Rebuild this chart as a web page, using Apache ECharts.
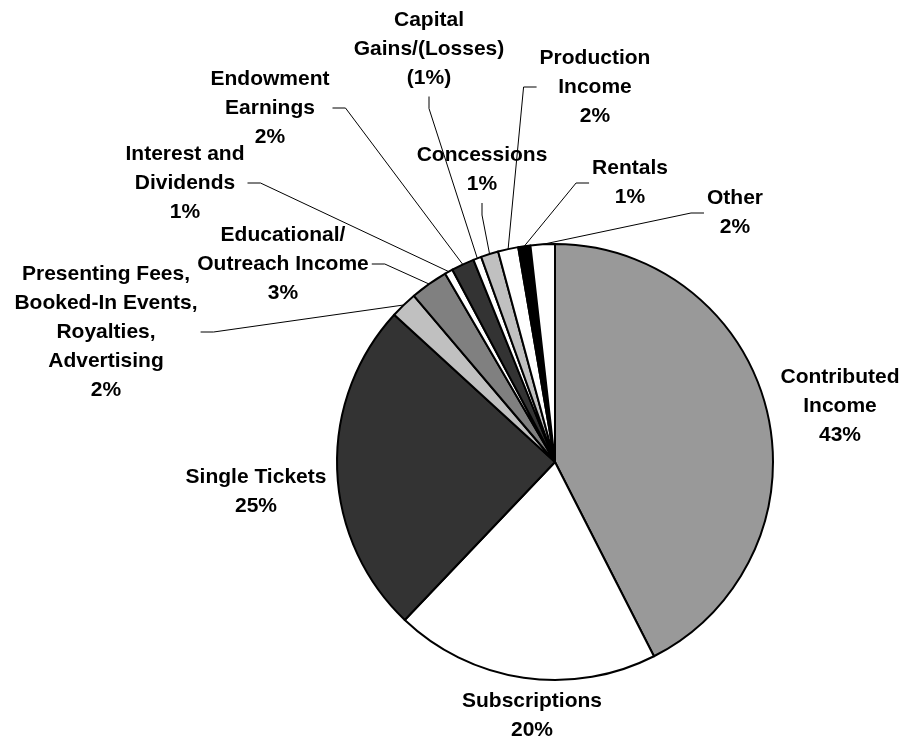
<!DOCTYPE html>
<html>
<head>
<meta charset="utf-8">
<script src="https://cdn.jsdelivr.net/npm/echarts@6/dist/echarts.min.js"></script>
<style>
  html, body { margin: 0; padding: 0; background: #ffffff; }
  #chart { width: 915px; height: 738px; }
</style>
</head>
<body>
<div id="chart"></div>
<script>
// Income sources as a share of total revenue (a loss is stored as a negative share)
const categories = [
  'Contributed\nIncome',
  'Subscriptions',
  'Single Tickets',
  'Presenting Fees,\nBooked-In Events,\nRoyalties,\nAdvertising',
  'Educational/\nOutreach Income',
  'Interest and\nDividends',
  'Endowment\nEarnings',
  'Capital\nGains/(Losses)',
  'Concessions',
  'Production\nIncome',
  'Rentals',
  'Other'
];
const shares = [42.5, 19.6, 24.7, 2.0, 2.8, 0.6, 1.7, -0.6, 1.3, 1.5, 0.9, 1.8];

// Slice fills, one per category
const fills = ['#999999', '#ffffff', '#333333', '#c0c0c0', '#808080', '#ffffff',
               '#333333', '#ffffff', '#c0c0c0', '#ffffff', '#000000', '#ffffff'];

// Where each label block sits and which edge its leader line meets
const labelSpots = [
  { x: 840, y: 406, side: null },
  { x: 532, y: 716, side: null },
  { x: 256, y: 492, side: null },
  { x: 106, y: 332, side: 'right' },
  { x: 283, y: 264, side: 'right' },
  { x: 185, y: 183, side: 'right' },
  { x: 270, y: 108, side: 'right' },
  { x: 429, y: 49,  side: 'bottom' },
  { x: 482, y: 170, side: 'bottom' },
  { x: 595, y: 87,  side: 'left' },
  { x: 630, y: 183, side: 'left' },
  { x: 735, y: 213, side: 'left' }
];

const total = shares.reduce((s, v) => s + Math.abs(v), 0);

const pieData = categories.map((name, i) => ({
  name: name,
  value: Math.abs(shares[i]),
  itemStyle: { color: fills[i] },
  labelLine: { show: labelSpots[i].side !== null }
}));

function shareText(i) {
  const pct = Math.round(Math.abs(shares[i]) / total * 100);
  return shares[i] < 0 ? '(' + pct + '%)' : pct + '%';
}

const chart = echarts.init(document.getElementById('chart'), null, { renderer: 'canvas' });

chart.setOption({
  backgroundColor: '#ffffff',
  animation: false,
  series: [{
    type: 'pie',
    center: [555, 462],
    radius: 218,
    startAngle: 90,
    clockwise: true,
    avoidLabelOverlap: false,
    data: pieData,
    itemStyle: { borderColor: '#000000', borderWidth: 2 },
    emphasis: { disabled: true },
    label: {
      show: true,
      position: 'outside',
      formatter: p => p.name + '\n' + shareText(p.dataIndex),
      fontFamily: '"Liberation Sans", Arial, sans-serif',
      fontWeight: 'bold',
      fontSize: 21,
      lineHeight: 29,
      color: '#000000',
      align: 'center'
    },
    labelLine: {
      show: true,
      length: 20,
      length2: 10,
      lineStyle: { color: '#000000', width: 1 }
    },
    labelLayout: function (p) {
      const s = labelSpots[p.dataIndex];
      const out = { x: s.x, y: s.y, align: 'center', verticalAlign: 'middle' };
      if (s.side && p.labelLinePoints) {
        const w = p.labelRect.width;
        const h = p.labelRect.height;
        const start = p.labelLinePoints[0];
        let end, elbow;
        if (s.side === 'right') {
          end = [s.x + w / 2 + 3, s.y];
          elbow = [end[0] + 13, s.y];
        } else if (s.side === 'left') {
          end = [s.x - w / 2 - 3, s.y];
          elbow = [end[0] - 13, s.y];
        } else {
          end = [s.x, s.y + h / 2 + 4];
          elbow = [s.x, end[1] + 12];
        }
        out.labelLinePoints = [start, elbow, end];
      }
      return out;
    }
  }]
});
</script>
</body>
</html>
